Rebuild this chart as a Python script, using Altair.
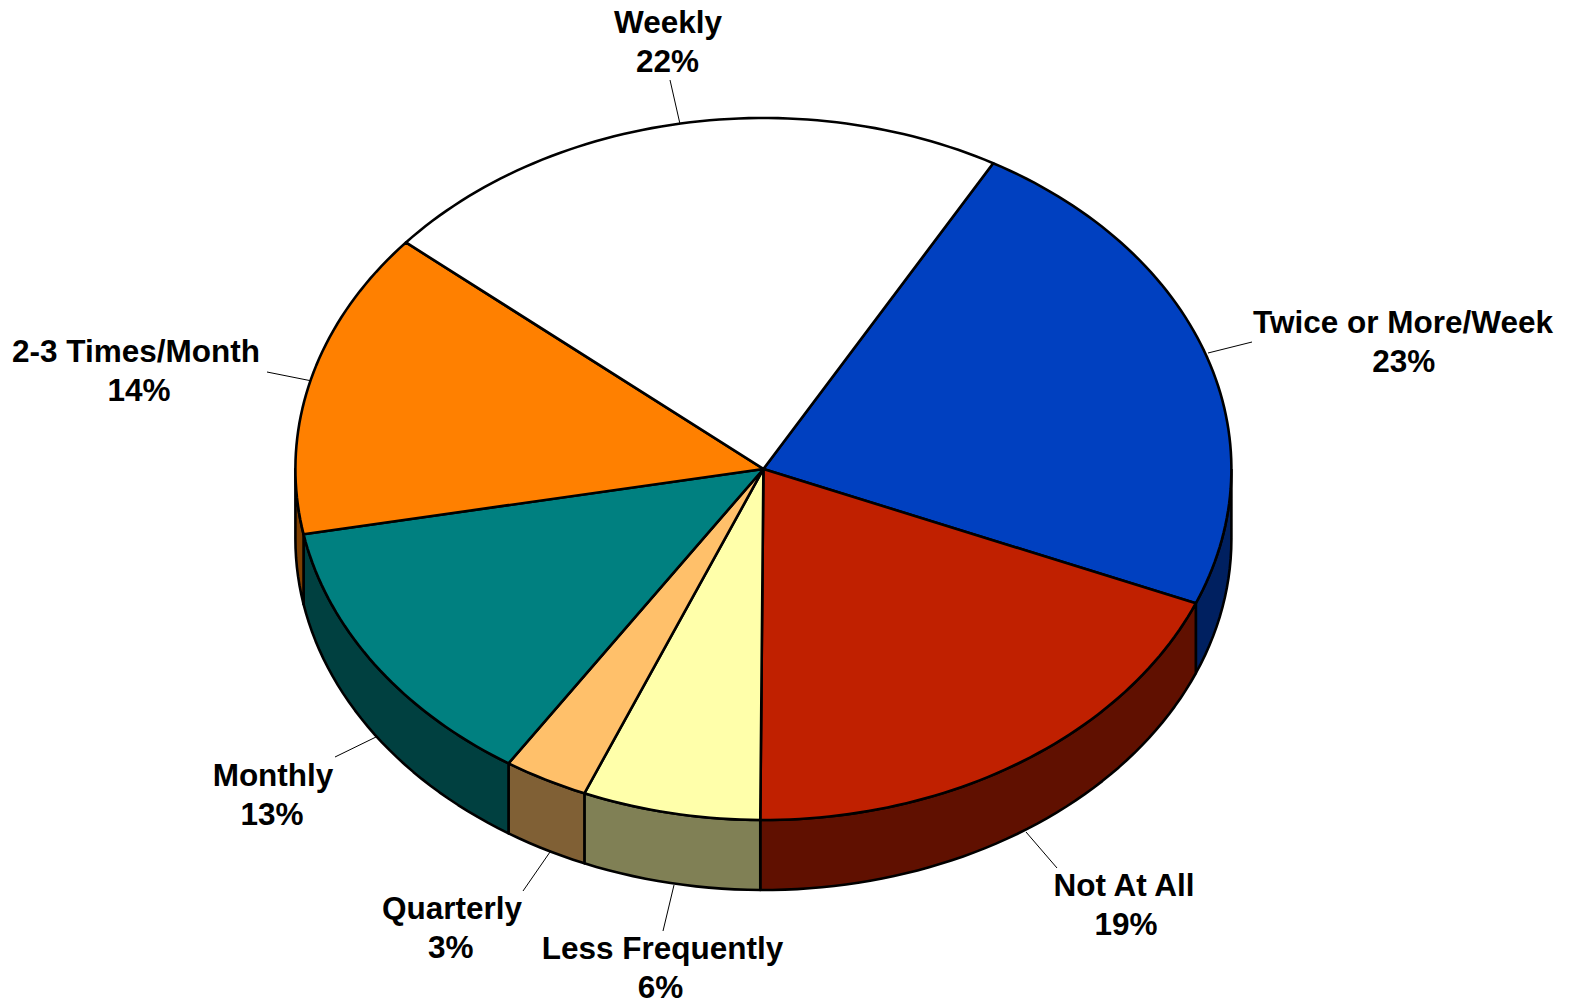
import math
import altair as alt
import pandas as pd

# chart values, clockwise from the start angle
categories = ["Twice or More/Week", "Not At All", "Less Frequently", "Quarterly",
              "Monthly", "2-3 Times/Month", "Weekly"]
shares = [23.08, 18.86, 6.14, 2.92, 12.86, 14.14, 22.0]
top_colors = ["#0040C0", "#C02000", "#FFFFAA", "#FFC06A", "#008080", "#FF8000", "#FFFFFF"]
side_colors = ["#002060", "#601000", "#808055", "#806035", "#004040", "#804000", "#808080"]

# label placement, in reference pixels
label_x = [1403, 1124, 662.5, 452, 273, 136, 668]
label_y = [333, 896, 959, 919, 786, 362, 33]
percent_x = [1403.8, 1126, 660.5, 450.8, 272, 139, 667.5]
leader_x1 = [1252, 1057, 663, 523, 335, 267, 670]
leader_y1 = [342, 868, 931, 891, 757, 372, 80]
leader_x2 = [1208, 1026, 674, 550, 376, 312, 680]
leader_y2 = [353, 832, 885, 852, 737, 381, 124]

START, CX, CY, RX, RY, DEPTH = 29.4, 763.4, 469, 468, 351, 70
LINE_GAP = 39
W, H = 1557, 992


def rim(angle, drop=0.0):
    t = math.radians(angle)
    return CX + RX * math.sin(t), CY + drop - RY * math.cos(t)


top_rows, side_rows = [], []
angle = START
for name, share, top, side in zip(categories, shares, top_colors, side_colors):
    end = angle + share * 3.6
    steps = max(4, int(share * 3))
    pts = [(CX, CY)] + [rim(angle + (end - angle) * i / steps) for i in range(steps + 1)] + [(CX, CY)]
    top_rows += [dict(name=name, fill=top, i=i, x=p[0], y=p[1]) for i, p in enumerate(pts)]
    a, b = max(angle, 90), min(end, 270)
    if a < b:
        n = max(2, int((b - a) / 1.5))
        upper = [rim(a + (b - a) * i / n) for i in range(n + 1)]
        lower = [rim(a + (b - a) * i / n, DEPTH) for i in range(n, -1, -1)]
        ring = upper + lower + upper[:1]
        side_rows += [dict(name=name, fill=side, i=i, x=p[0], y=p[1]) for i, p in enumerate(ring)]
    angle = end

text_rows = []
for name, share, lx, ly, px in zip(categories, shares, label_x, label_y, percent_x):
    text_rows.append(dict(t=name, x=lx, y=ly))
    text_rows.append(dict(t=f"{round(share)}%", x=px, y=ly + LINE_GAP))

leaders = pd.DataFrame(dict(x=leader_x1, y=leader_y1, x2=leader_x2, y2=leader_y2))

xs = alt.Scale(domain=[8, 8 + W], nice=False, zero=False)
ys = alt.Scale(domain=[8 + H, 8], nice=False, zero=False)
X = alt.X("x:Q", scale=xs, axis=None)
Y = alt.Y("y:Q", scale=ys, axis=None)


def polygons(rows):
    return alt.Chart(pd.DataFrame(rows)).mark_line(
        stroke="#000000", strokeWidth=2.6, strokeJoin="round", interpolate="linear", clip=False
    ).encode(
        x=X, y=Y,
        fill=alt.Fill("fill:N", scale=None, legend=None),
        detail="name:N",
        order="i:Q",
    )


rules = alt.Chart(leaders).mark_rule(color="#000000", strokeWidth=1).encode(
    x=X, y=Y, x2="x2:Q", y2="y2:Q"
)
labels = alt.Chart(pd.DataFrame(text_rows)).mark_text(
    font="Liberation Sans", fontWeight="bold", fontSize=31.5, color="#000000",
    align="center", baseline="alphabetic"
).encode(x=X, y=Y, text="t:N")

chart = alt.layer(rules, polygons(side_rows), polygons(top_rows), labels).properties(
    width=W, height=H, padding=0, background="#FFFFFF",
    autosize=alt.AutoSizeParams(type="none"),
).configure_view(stroke=None)

chart.save("out.html", embed_options={"renderer": "svg", "actions": False})
